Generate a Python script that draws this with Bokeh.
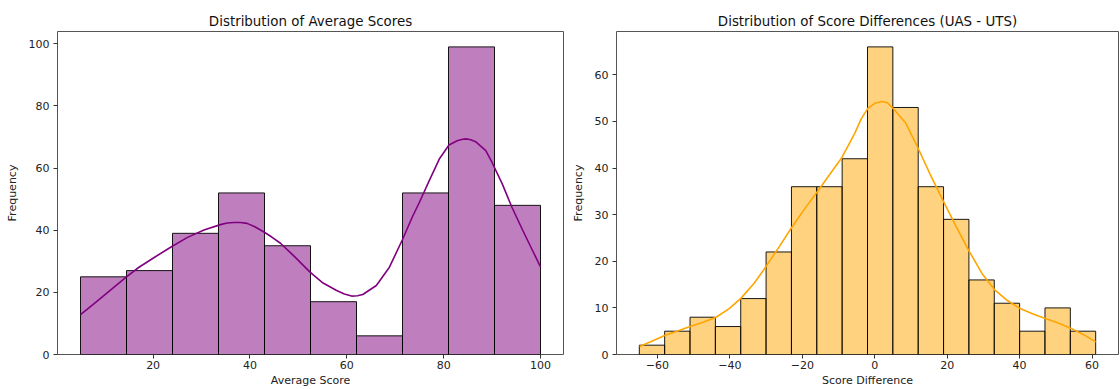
from bokeh.plotting import figure
from bokeh.layouts import row
from bokeh.models import FixedTicker, Range1d
from bokeh.embed import file_html
from bokeh.resources import INLINE

# ---------------- data ----------------
avg_edges = [5, 14.5, 24, 33.5, 43, 52.5, 62, 71.5, 81, 90.5, 100]
avg_counts = [25, 27, 39, 52, 35, 17, 6, 52, 99, 48]
avg_kde_x = [5.0, 7.5, 10.0, 12.5, 14.5, 17.0, 20.3, 23.7, 27.1, 30.5, 33.9, 35.3, 36.7, 38.0,
             39.4, 41.0, 42.8, 44.5, 46.3, 49.0, 52.4, 55.1, 57.9, 59.5, 61.0, 62.2, 63.3,
             66.1, 68.8, 71.5, 73.6, 75.0, 77.0, 79.1, 81.1, 82.8, 83.7, 84.6, 85.6, 86.6,
             88.7, 90.0, 92.1, 94.1, 96.2, 98.0, 100.0]
avg_kde_y = [12.8, 16.0, 19.2, 22.4, 25.0, 28.0, 31.3, 34.6, 37.7, 40.1, 41.8, 42.3, 42.5, 42.5,
             42.2, 41.1, 39.5, 37.8, 35.8, 31.8, 26.5, 23.0, 20.6, 19.5, 18.8, 18.9, 19.3,
             22.2, 28.1, 37.0, 44.5, 49.0, 55.9, 62.9, 67.4, 68.8, 69.2, 69.4, 69.1, 68.5,
             65.6, 61.8, 54.9, 47.4, 40.4, 34.6, 28.2]

diff_edges = [-65, -58, -51, -44, -37, -30, -23, -16, -9, -2, 5, 12, 19, 26, 33, 40, 47, 54, 61]
diff_counts = [2, 5, 8, 6, 12, 22, 36, 36, 42, 66, 53, 36, 29, 16, 11, 5, 10, 5]
diff_kde_x = [-64.9, -61.1, -57.7, -54.2, -51.0, -47.4, -43.8, -40.1, -36.9, -33.3, -30.1,
              -26.4, -22.8, -19.2, -15.5, -11.9, -9.2, -5.5, -3.7, -1.9, 0.0, 2.0, 3.5, 5.1,
              8.6, 12.0, 15.4, 19.0, 22.7, 25.9, 29.6, 33.2, 36.4, 40.0, 43.7, 46.9, 50.5,
              54.2, 57.8, 61.0]
diff_kde_y = [1.7, 3.0, 4.2, 5.1, 6.0, 6.9, 8.0, 9.9, 12.1, 15.3, 18.8,
              23.1, 27.4, 31.4, 35.3, 39.2, 42.1, 47.5, 50.6, 52.8, 53.9, 54.3, 54.0, 52.8,
              49.6, 44.2, 38.5, 32.8, 27.1, 22.4, 17.4, 13.8, 11.7, 9.9, 8.7, 7.8, 6.8,
              5.6, 4.2, 2.7]

avg_xticks = [20, 40, 60, 80, 100]
avg_yticks = [0, 20, 40, 60, 80, 100]
diff_xticks = [-60, -40, -20, 0, 20, 40, 60]
diff_yticks = [0, 10, 20, 30, 40, 50, 60]

FONT = "DejaVu Sans"


def style(p, xticks, yticks, xlabel, ylabel):
    p.grid.visible = False
    p.outline_line_color = "#555555"
    p.outline_line_width = 1
    p.title.text_font = FONT
    p.title.text_font_size = "13.4px"
    p.title.text_font_style = "normal"
    p.title.text_color = "#111111"
    p.title.align = "center"
    p.title.standoff = 5
    for ax in (p.xaxis[0], p.yaxis[0]):
        ax.axis_line_color = None
        ax.major_tick_in = 0
        ax.major_tick_out = 4
        ax.major_tick_line_color = "#333333"
        ax.minor_tick_line_color = None
        ax.major_label_text_font = FONT
        ax.major_label_text_font_size = "11px"
        ax.major_label_text_color = "#222222"
        ax.axis_label_text_font = FONT
        ax.axis_label_text_font_size = "11px"
        ax.axis_label_text_font_style = "normal"
        ax.axis_label_text_color = "#222222"
    p.xaxis[0].major_label_standoff = 2
    p.xaxis[0].axis_label_standoff = 2
    p.yaxis[0].major_label_standoff = 4
    p.yaxis[0].axis_label_standoff = 7
    p.xaxis[0].ticker = FixedTicker(ticks=xticks)
    p.yaxis[0].ticker = FixedTicker(ticks=yticks)
    p.xaxis[0].axis_label = xlabel
    p.yaxis[0].axis_label = ylabel
    p.xaxis[0].major_label_overrides = {t: str(t).replace("-", "\u2212") for t in xticks}


# ---------------- left ----------------
p1 = figure(width=568, height=389, output_backend="svg", toolbar_location=None,
            title="Distribution of Average Scores",
            x_range=Range1d(0.25, 104.75), y_range=Range1d(0, 103.95),
            min_border_left=57, min_border_right=5, min_border_top=31, min_border_bottom=35)
p1.quad(left=avg_edges[:-1], right=avg_edges[1:], top=avg_counts, bottom=0,
        fill_color="purple", fill_alpha=0.5, line_color="black", line_width=1, line_alpha=0.9)
p1.line(avg_kde_x, avg_kde_y, line_color="purple", line_width=1.6, line_join="round")
style(p1, avg_xticks, avg_yticks, "Average Score", "Frequency")

# ---------------- right ----------------
p2 = figure(width=552, height=389, output_backend="svg", toolbar_location=None,
            title="Distribution of Score Differences (UAS - UTS)",
            x_range=Range1d(-71.3, 67.3), y_range=Range1d(0, 69.3),
            min_border_left=45, min_border_right=2, min_border_top=31, min_border_bottom=35)
p2.quad(left=diff_edges[:-1], right=diff_edges[1:], top=diff_counts, bottom=0,
        fill_color="orange", fill_alpha=0.5, line_color="black", line_width=1, line_alpha=0.9)
p2.line(diff_kde_x, diff_kde_y, line_color="orange", line_width=1.6, line_join="round")
style(p2, diff_xticks, diff_yticks, "Score Difference", "Frequency")

layout = row(p1, p2)
open("out.html", "w").write(file_html(layout, INLINE))
